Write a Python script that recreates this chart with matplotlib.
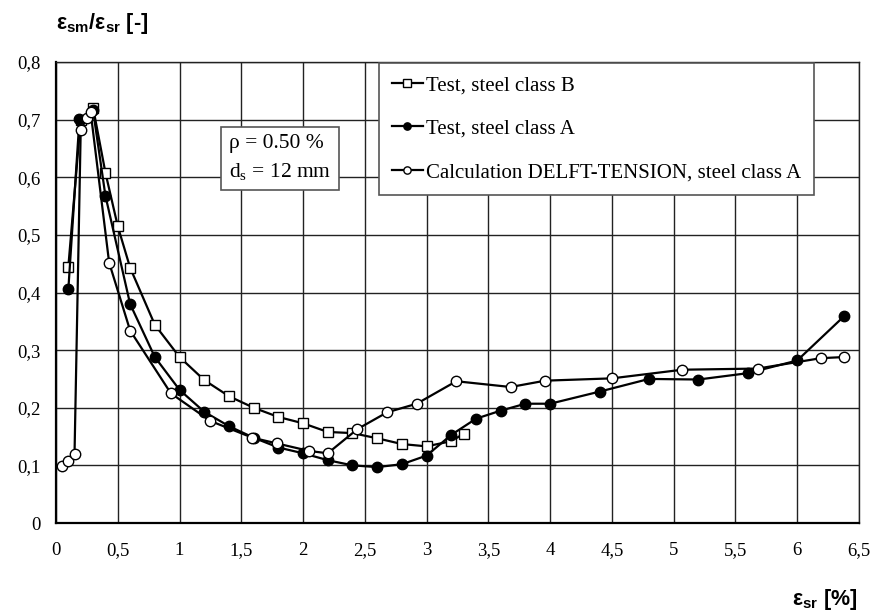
import numpy as np
import matplotlib
matplotlib.use("Agg")
import matplotlib.pyplot as plt
from matplotlib.ticker import FuncFormatter

# --- data ---
x_testB = [0.10, 0.20, 0.30, 0.40, 0.50, 0.60, 0.80, 1.00, 1.20, 1.40, 1.60, 1.80,
           2.00, 2.20, 2.40, 2.60, 2.80, 3.00, 3.20, 3.30]
y_testB = [0.445, 0.700, 0.721, 0.608, 0.515, 0.443, 0.344, 0.288, 0.248, 0.220,
           0.200, 0.184, 0.173, 0.158, 0.156, 0.147, 0.137, 0.133, 0.142, 0.155]

x_testA = [0.10, 0.19, 0.30, 0.40, 0.60, 0.80, 1.00, 1.20, 1.40, 1.60, 1.80, 2.00,
           2.20, 2.40, 2.60, 2.80, 3.00, 3.20, 3.40, 3.60, 3.80, 4.00, 4.40,
           4.80, 5.20, 5.60, 6.00, 6.38]
y_testA = [0.406, 0.701, 0.716, 0.568, 0.380, 0.288, 0.231, 0.193, 0.168, 0.148,
           0.131, 0.121, 0.109, 0.100, 0.097, 0.102, 0.117, 0.153, 0.181, 0.195,
           0.207, 0.207, 0.228, 0.250, 0.249, 0.260, 0.282, 0.359]

x_calc = [0.05, 0.10, 0.15, 0.20, 0.25, 0.28, 0.43, 0.60, 0.93, 1.25, 1.59, 1.79,
          2.05, 2.20, 2.44, 2.68, 2.92, 3.24, 3.68, 3.96, 4.50, 5.07, 5.68, 6.19, 6.38]
y_calc = [0.099, 0.108, 0.120, 0.682, 0.703, 0.714, 0.452, 0.334, 0.225, 0.177,
          0.148, 0.138, 0.125, 0.121, 0.163, 0.192, 0.207, 0.246, 0.236, 0.247,
          0.251, 0.266, 0.268, 0.286, 0.288]

labels = ["Test, steel class B", "Test, steel class A",
          "Calculation DELFT-TENSION, steel class A"]

x_ticks = [0, 0.5, 1, 1.5, 2, 2.5, 3, 3.5, 4, 4.5, 5, 5.5, 6, 6.5]
y_ticks = [0, 0.1, 0.2, 0.3, 0.4, 0.5, 0.6, 0.7, 0.8]

serif = "Liberation Serif"
sans = "Liberation Sans"

fig = plt.figure(figsize=(8.75, 6.15), dpi=100)
ax = fig.add_axes([56 / 875, 1 - 523 / 615, (859 - 56) / 875, (523 - 62) / 615])

ax.set_xlim(0, 6.5)
ax.set_ylim(0, 0.8)
ax.set_xticks(x_ticks)
ax.set_yticks(y_ticks)
ax.grid(True, color="#222222", lw=1.0)
ax.set_axisbelow(True)

comma = FuncFormatter(lambda v, p: ("%g" % v).replace(".", ","))
ax.xaxis.set_major_formatter(comma)
ax.yaxis.set_major_formatter(comma)
ax.tick_params(length=0, labelsize=13.5)
for lab in ax.get_xticklabels() + ax.get_yticklabels():
    lab.set_fontfamily(serif)
ax.tick_params(axis="y", pad=11)
ax.tick_params(axis="x", pad=14)

for s in ax.spines.values():
    s.set_color("#222222")
    s.set_linewidth(1.0)
ax.spines["left"].set_linewidth(1.6)
ax.spines["bottom"].set_linewidth(1.6)
ax.spines["left"].set_color("black")
ax.spines["bottom"].set_color("black")

ax.plot(x_testB, y_testB, "-s", color="black", lw=1.6, ms=7.5,
        mfc="white", mec="black", mew=1.0, label=labels[0], zorder=3)
ax.plot(x_testA, y_testA, "-o", color="black", lw=1.6, ms=7.5,
        mfc="black", mec="black", mew=1.0, label=labels[1], zorder=4)
ax.plot(x_calc, y_calc, "-o", color="black", lw=1.6, ms=7.5,
        mfc="white", mec="black", mew=1.0, label=labels[2], zorder=5)

leg = ax.legend(loc="upper left", bbox_to_anchor=(379 / 875, 1 - 63 / 615),
                bbox_transform=fig.transFigure, borderaxespad=0,
                prop={"family": serif, "size": 15}, frameon=True, fancybox=False,
                labelspacing=1.15, handlelength=1.5, handletextpad=0.15,
                markerscale=0.7, borderpad=0.6)
leg.get_frame().set_edgecolor("#555555")
leg.get_frame().set_linewidth(1.2)
leg.get_frame().set_alpha(1)

ax.text(1.40, 0.633, "ρ = 0.50 %\nd$_\\mathregular{s}$ = 12 mm",
        family=serif, fontsize=15.5, va="center", ha="left", linespacing=1.5,
        bbox=dict(boxstyle="square,pad=0.35", fc="white", ec="#555555", lw=1.2),
        zorder=6)

fig.text(56 / 875, 1 - 23 / 615,
         "ε$_\\mathregular{sm}$/ε$_\\mathregular{sr}$ [-]",
         family=sans, weight="bold", fontsize=15.5, va="center", ha="left")
fig.text(857 / 875, 1 - 600 / 615, "ε$_\\mathregular{sr}$ [%]",
         family=sans, weight="bold", fontsize=15.5, va="center", ha="right")

fig.savefig("out.png", dpi=100)
